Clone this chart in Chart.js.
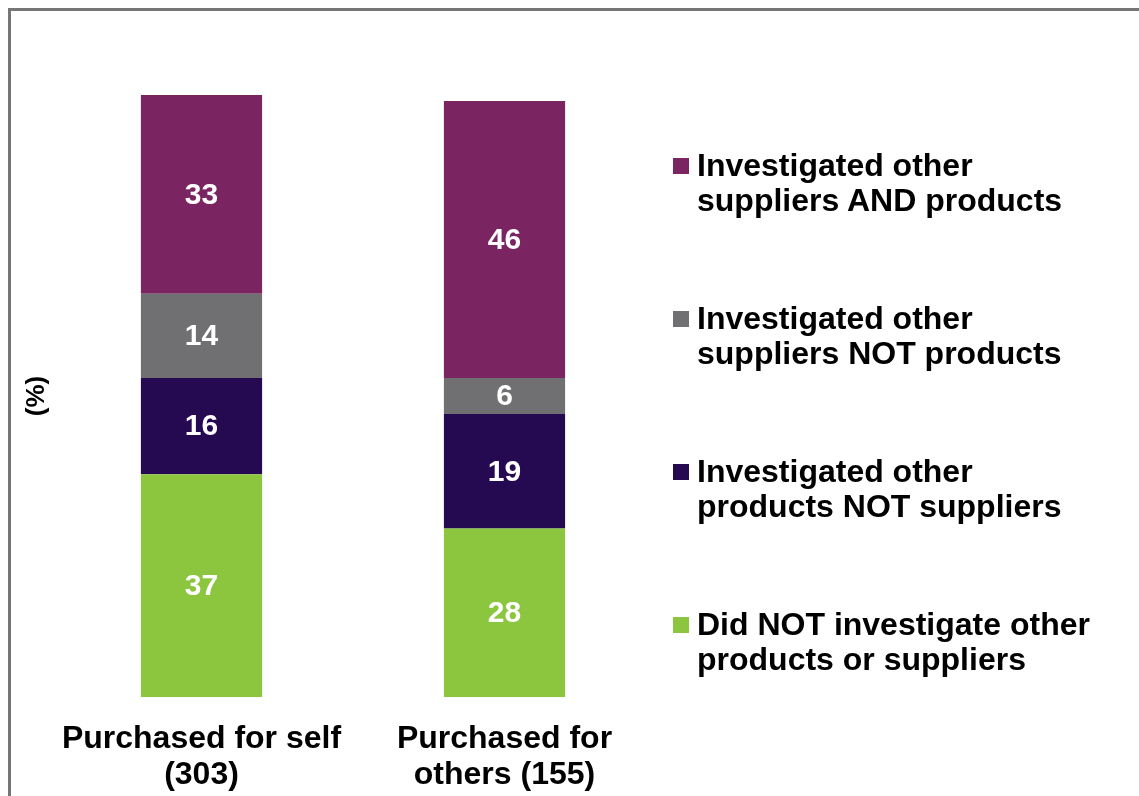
<!DOCTYPE html>
<html>
<head>
<meta charset="utf-8">
<script src="https://cdn.jsdelivr.net/npm/chart.js@4/dist/chart.umd.min.js"></script>
<style>
  html, body { margin: 0; padding: 0; background: #fff; }
  #wrap { position: relative; width: 1139px; height: 796px; overflow: hidden; }
  #frame { position: absolute; left: 8px; top: 8px; right: -10px; bottom: -10px;
           border-left: 3px solid #767676; border-top: 3px solid #767676; }
  #chart { position: absolute; left: 0; top: 0; }
  #legend { position: absolute; left: 0; top: 0; width: 1139px; height: 796px; pointer-events: none; }
  .item { position: absolute; left: 673px; display: flex; align-items: flex-start;
          font: bold 32px "Liberation Sans", Arial, sans-serif; line-height: 35px; color: #000; }
  .box { width: 16px; height: 16px; margin-top: 10px; margin-right: 8px; flex: none; }
</style>
</head>
<body>
<div id="wrap">
  <div id="frame"></div>
  <canvas id="chart" width="1139" height="796"></canvas>
  <div id="legend"></div>
</div>
<script>
(function () {
  "use strict";

  var categories = [["Purchased for self", "(303)"], ["Purchased for", "others (155)"]];
  var seriesNames = [
    ["Did NOT investigate other", "products or suppliers"],
    ["Investigated other", "products NOT suppliers"],
    ["Investigated other", "suppliers NOT products"],
    ["Investigated other", "suppliers AND products"]
  ];
  var notInvestigated = [37, 28];
  var productsOnly = [16, 19];
  var suppliersOnly = [14, 6];
  var both = [33, 46];
  var colors = ["#8CC63F", "#250A52", "#707073", "#7B2462"];

  var FONT = '"Liberation Sans", Arial, sans-serif';

  // white value labels in the middle of each segment
  var segmentLabels = {
    id: "segmentLabels",
    afterDatasetsDraw: function (chart) {
      var ctx = chart.ctx;
      ctx.save();
      ctx.fillStyle = "#fff";
      ctx.font = "bold 30px " + FONT;
      ctx.textAlign = "center";
      ctx.textBaseline = "middle";
      chart.data.datasets.forEach(function (ds, i) {
        chart.getDatasetMeta(i).data.forEach(function (bar, j) {
          var mid = (bar.y + bar.base) / 2;
          ctx.fillText(String(ds.data[j]), bar.x, mid + 1);
        });
      });
      ctx.restore();
    }
  };

  var chart = new Chart(document.getElementById("chart").getContext("2d"), {
    type: "bar",
    data: {
      labels: categories,
      datasets: [notInvestigated, productsOnly, suppliersOnly, both].map(function (vals, i) {
        return {
          label: seriesNames[i].join(" "),
          data: vals,
          backgroundColor: colors[i],
          borderWidth: 0,
          barPercentage: 0.4,
          categoryPercentage: 1
        };
      })
    },
    options: {
      responsive: false,
      animation: false,
      layout: { padding: { left: 10, right: 483, top: 95, bottom: 0 } },
      plugins: { legend: { display: false }, tooltip: { enabled: false } },
      scales: {
        x: {
          stacked: true,
          grid: { display: false },
          border: { display: false },
          ticks: {
            color: "#000",
            padding: 16,
            font: { family: FONT, size: 32, weight: "bold", lineHeight: 1.125 },
            maxRotation: 0
          },
          afterFit: function (s) { s.height = 99; }
        },
        y: {
          stacked: true,
          min: 0,
          max: 100,
          grid: { display: false },
          border: { display: false },
          ticks: { display: false },
          title: {
            display: true,
            text: "(%)",
            color: "#000",
            font: { family: FONT, size: 26, weight: "bold" },
            padding: { top: 11, bottom: 0 }
          },
          afterFit: function (s) { s.width = 40; }
        }
      }
    },
    plugins: [segmentLabels]
  });

  // legend on the right, topmost series first
  var legend = document.getElementById("legend");
  chart.data.datasets.slice().reverse().forEach(function (ds, k) {
    var idx = chart.data.datasets.length - 1 - k;
    var item = document.createElement("div");
    item.className = "item";
    item.style.top = (148 + k * 153) + "px";
    var box = document.createElement("div");
    box.className = "box";
    box.style.background = ds.backgroundColor;
    var txt = document.createElement("div");
    txt.innerHTML = seriesNames[idx].join("<br>");
    item.appendChild(box);
    item.appendChild(txt);
    legend.appendChild(item);
  });
})();
</script>
</body>
</html>
